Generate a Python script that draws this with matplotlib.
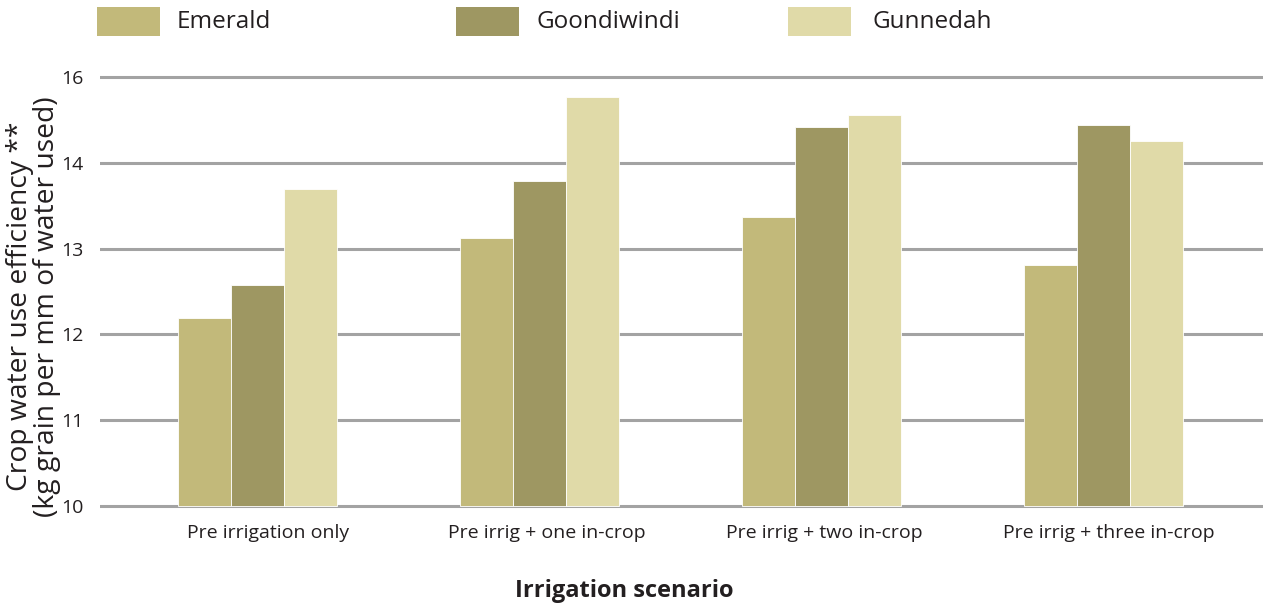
import numpy as np
import matplotlib
matplotlib.use("Agg")
import matplotlib.pyplot as plt
import matplotlib.transforms as mtransforms
from matplotlib.patches import Rectangle

plt.rcParams['font.family'] = ['Open Sans', 'DejaVu Sans']

scenarios = ['Pre irrigation only', 'Pre irrig + one in-crop',
             'Pre irrig + two in-crop', 'Pre irrig + three in-crop']
emerald = [12.19, 13.12, 13.37, 12.81]
goondiwindi = [12.58, 13.79, 14.42, 14.44]
gunnedah = [13.69, 14.77, 14.56, 14.25]
series_names = ['Emerald', 'Goondiwindi', 'Gunnedah']
colors = ['#c2b97a', '#9e9762', '#e0daa8']
ytick_vals = [10, 11, 12, 13, 14, 15]
ytick_labels = ['10', '11', '12', '13', '14', '16']

txt = '#231f20'
W, H = 1263, 603
fig = plt.figure(figsize=(W / 100, H / 100), dpi=100)

# axes placed in pixel terms
y0, y1 = 9.97, 15.03
ppu = (506 - 77) / 5.0
bot_px = 506 + (10 - y0) * ppu
top_px = 77 - (y1 - 15) * ppu
ax = fig.add_axes([100 / W, (H - bot_px) / H, (W - 100) / W, (bot_px - top_px) / H])

x = np.arange(len(scenarios))
bw = 0.188
for i, (vals, c) in enumerate(zip([emerald, goondiwindi, gunnedah], colors)):
    ax.bar(x + (i - 1) * bw, np.array(vals) - 10, bottom=10, width=bw, color=c,
           edgecolor='white', linewidth=0.6, zorder=3)

ax.set_xlim(-0.559, 3.566)
ax.set_ylim(y0, y1)
ax.set_yticks(ytick_vals)
ax.set_yticklabels(ytick_labels)
ax.set_xticks(x)
ax.set_xticklabels(scenarios)
ax.tick_params(axis='both', length=0, labelsize=14, colors=txt)
ax.tick_params(axis='y', pad=12)
ax.tick_params(axis='x', pad=11)
ax.yaxis.grid(True, color='#a3a3a3', linewidth=2.2, zorder=0)
ax.set_axisbelow(True)
for s in ax.spines.values():
    s.set_visible(False)

# the category labels sit a little right of the bar groups
for lab, dx in zip(ax.get_xticklabels(), [10, 7.5, 3, 5.5]):
    lab.set_transform(lab.get_transform() + mtransforms.ScaledTranslation(dx / 100, 0, fig.dpi_scale_trans))

ax.set_ylabel('Crop water use efficiency **\n(kg grain per mm of water used)',
              fontsize=20.3, color=txt, linespacing=0.98,
              ha='center', va='center')
ax.yaxis.set_label_coords(-0.057, 0.465)
ax.set_xlabel('Irrigation scenario', fontsize=17, fontweight='bold', color=txt, va='center')
ax.xaxis.set_label_coords(0.451, -0.191)

# legend row across the top
sw_x = [97, 456, 788]
tx_x = [177, 537, 872]
for name, c, sx, tx in zip(series_names, colors, sw_x, tx_x):
    fig.add_artist(Rectangle((sx / W, (H - 36) / H), 63 / W, 29 / H,
                             transform=fig.transFigure, color=c, lw=0))
    fig.text(tx / W, (H - 22) / H, name, fontsize=17.5,
             color=txt, va='center', ha='left')

fig.savefig('out.png', dpi=100)
